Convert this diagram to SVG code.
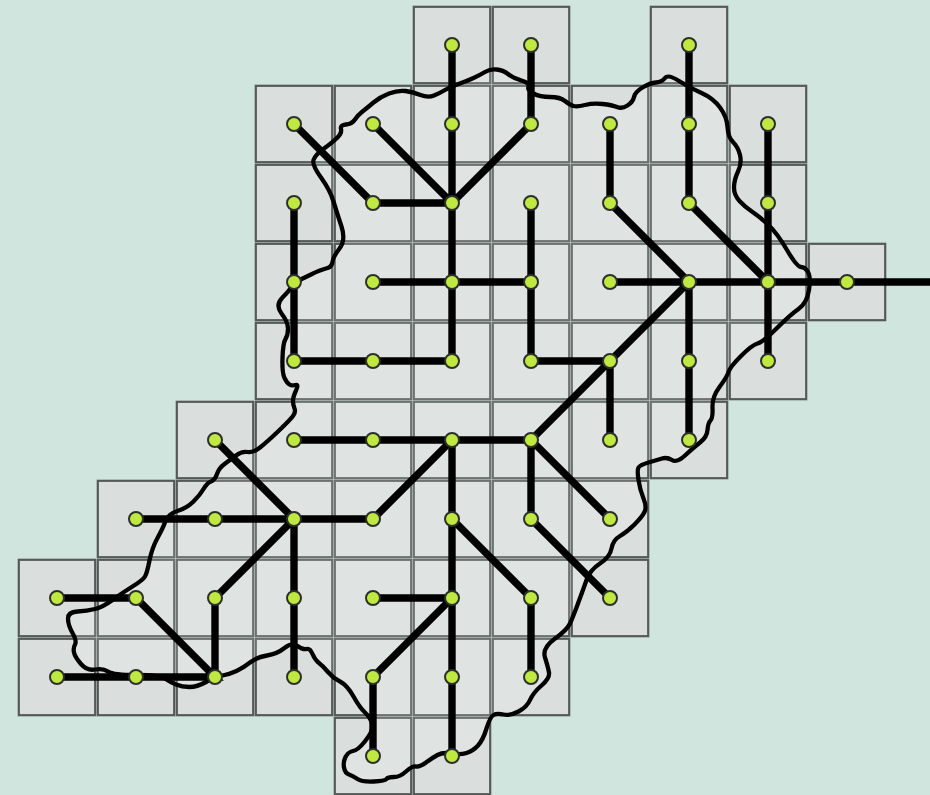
<svg xmlns="http://www.w3.org/2000/svg" xmlns:xlink="http://www.w3.org/1999/xlink" width="930" height="795" viewBox="0 0 930 795">
<defs>
<rect id="c" x="-38.2" y="-38.2" width="76.4" height="76.4"/>
<circle id="n" r="7"/>
<path id="shape" d="M339.5 248.5 Q333 257 332.5 262 Q332 267 326 268.5 Q320 270 311 274.5 Q302 279 298 280.5 Q294 282 292 286 Q290 290 282.5 297.5 Q275 305 281.5 313.5 Q288 322 288 328.5 Q288 335 285.5 339 Q283 343 282.5 358 Q282 373 284.5 378 Q287 383 289.5 384.5 Q292 386 295.5 385 Q299 384 296 390.5 Q293 397 293 401 Q293 405 294.5 408.5 Q296 412 293 416 Q290 420 278.5 431 Q267 442 260 447.5 Q253 453 247.5 452 Q242 451 236 455.5 Q230 460 224.5 464 Q219 468 217 474 Q215 480 211 481.5 Q207 483 203.5 489 Q200 495 193.5 501.5 Q187 508 177.5 511 Q168 514 165.5 521 Q163 528 157.5 538 Q152 548 149.5 560.5 Q147 573 145 576.5 Q143 580 132.5 586.5 Q122 593 112.5 600 Q103 607 95 609 Q87 611 77.5 611.5 Q68 612 68 618.5 Q68 625 72.5 633 Q77 641 75 644.5 Q73 648 74 652.5 Q75 657 81 664 Q87 671 95 669.5 Q103 668 108 671.5 Q113 675 136 675 Q160 675 165 678.5 Q170 682 176 684.5 Q182 687 189.5 687 Q197 687 206 682 Q215 677 222.5 675.5 Q230 674 236.5 671 Q243 668 250 662.5 Q257 657 267 655.5 Q277 654 284.5 648 Q292 642 297.5 646 Q303 650 306.5 649 Q310 648 312.5 654 Q315 660 319 663 Q323 666 328 672 Q333 678 340 681.5 Q347 685 353.5 696.5 Q360 708 365 712.5 Q370 717 371.5 722 Q373 727 371.5 731 Q370 735 364 742.5 Q358 750 353 751 Q348 752 345.5 757 Q343 762 344 767.5 Q345 773 349 774.5 Q353 776 357.5 779 Q362 782 373.5 781.5 Q385 781 386.5 779 Q388 777 394 777 Q400 777 406 771.5 Q412 766 416 766.5 Q420 767 426 762.5 Q432 758 437.5 755 Q443 752 451.5 753.5 Q460 755 466.5 753 Q473 751 478 745.5 Q483 740 486.5 728.5 Q490 717 493.5 715 Q497 713 503.5 714.5 Q510 716 518.5 711.5 Q527 707 530 700 Q533 693 541.5 685.5 Q550 678 549 672.5 Q548 667 545 657.5 Q542 648 554.5 639 Q567 630 570 623.5 Q573 617 578 603.5 Q583 590 586.5 580 Q590 570 600 563.5 Q610 557 611.5 548.5 Q613 540 620 536 Q627 532 634.5 524.5 Q642 517 644.5 512 Q647 507 643.5 498.5 Q640 490 638.5 480 Q637 470 638.5 467.5 Q640 465 648.5 462.5 Q657 460 662 458.5 Q667 457 672 460 Q677 463 685 455.5 Q693 448 700 442.5 Q707 437 707.5 430 Q708 423 710.5 420.5 Q713 418 712.5 407.5 Q712 397 719.5 387 Q727 377 728.5 372 Q730 367 741 356 Q752 345 757.5 343.5 Q763 342 776.5 328.5 Q790 315 798.5 309 Q807 303 809 290 Q811 277 808 272 Q805 267 801 267 Q797 267 787 250 Q777 233 768.5 225 Q760 217 752.5 212 Q745 207 739.5 201 Q734 195 734 187.5 Q734 180 738 171.5 Q742 163 740 155 Q738 147 733 142 Q728 137 727.5 127 Q727 117 720 107.5 Q713 98 701.5 93 Q690 88 679 81 Q668 74 665 78 Q662 82 656 82.5 Q650 83 642.5 87.5 Q635 92 634 97 Q633 102 627.5 105.5 Q622 109 617 107 Q612 105 602.5 104 Q593 103 585 105 Q577 107 573.5 106 Q570 105 565 101 Q560 97 550 97 Q540 97 533.5 93.5 Q527 90 528.5 86.5 Q530 83 521.5 80.5 Q513 78 508 74 Q503 70 496.5 69.5 Q490 69 485 72 Q480 75 473.5 78 Q467 81 458.5 84 Q450 87 445 90 Q440 93 434 95.5 Q428 98 420.5 95 Q413 92 405.5 91 Q398 90 389 93.5 Q380 97 373.5 102.5 Q367 108 362.5 111.5 Q358 115 355 119.5 Q352 124 346 124.5 Q340 125 341 129 Q342 133 337.5 137.5 Q333 142 324 148.5 Q315 155 313.5 160 Q312 165 321 177.5 Q330 190 333.5 201.5 Q337 213 341.5 226.5 Q346 240 339.5 248.5Z"/>
</defs>
<style>
.cell{fill:#dadfdd;stroke:#555a58;stroke-width:2.2}
.node{fill:#bfe841;stroke:#2c2f2a;stroke-width:2}
.edge{stroke:#000;stroke-width:7.4;stroke-linecap:round;fill:none}
.blob{fill:#fff;fill-opacity:.14;stroke:none}
.outline{fill:none;stroke:#000;stroke-width:4.3;stroke-linejoin:round}
</style>
<rect width="930" height="795" fill="#cfe5dd"/>
<g id="cells" class="cell">
<use xlink:href="#c" x="452" y="45"/><use xlink:href="#c" x="531" y="45"/><use xlink:href="#c" x="689" y="45"/>
<use xlink:href="#c" x="294" y="124"/><use xlink:href="#c" x="373" y="124"/><use xlink:href="#c" x="452" y="124"/><use xlink:href="#c" x="531" y="124"/><use xlink:href="#c" x="610" y="124"/><use xlink:href="#c" x="689" y="124"/><use xlink:href="#c" x="768" y="124"/>
<use xlink:href="#c" x="294" y="203"/><use xlink:href="#c" x="373" y="203"/><use xlink:href="#c" x="452" y="203"/><use xlink:href="#c" x="531" y="203"/><use xlink:href="#c" x="610" y="203"/><use xlink:href="#c" x="689" y="203"/><use xlink:href="#c" x="768" y="203"/>
<use xlink:href="#c" x="294" y="282"/><use xlink:href="#c" x="373" y="282"/><use xlink:href="#c" x="452" y="282"/><use xlink:href="#c" x="531" y="282"/><use xlink:href="#c" x="610" y="282"/><use xlink:href="#c" x="689" y="282"/><use xlink:href="#c" x="768" y="282"/><use xlink:href="#c" x="847" y="282"/>
<use xlink:href="#c" x="294" y="361"/><use xlink:href="#c" x="373" y="361"/><use xlink:href="#c" x="452" y="361"/><use xlink:href="#c" x="531" y="361"/><use xlink:href="#c" x="610" y="361"/><use xlink:href="#c" x="689" y="361"/><use xlink:href="#c" x="768" y="361"/>
<use xlink:href="#c" x="215" y="440"/><use xlink:href="#c" x="294" y="440"/><use xlink:href="#c" x="373" y="440"/><use xlink:href="#c" x="452" y="440"/><use xlink:href="#c" x="531" y="440"/><use xlink:href="#c" x="610" y="440"/><use xlink:href="#c" x="689" y="440"/>
<use xlink:href="#c" x="136" y="519"/><use xlink:href="#c" x="215" y="519"/><use xlink:href="#c" x="294" y="519"/><use xlink:href="#c" x="373" y="519"/><use xlink:href="#c" x="452" y="519"/><use xlink:href="#c" x="531" y="519"/><use xlink:href="#c" x="610" y="519"/>
<use xlink:href="#c" x="57" y="598"/><use xlink:href="#c" x="136" y="598"/><use xlink:href="#c" x="215" y="598"/><use xlink:href="#c" x="294" y="598"/><use xlink:href="#c" x="373" y="598"/><use xlink:href="#c" x="452" y="598"/><use xlink:href="#c" x="531" y="598"/><use xlink:href="#c" x="610" y="598"/>
<use xlink:href="#c" x="57" y="677"/><use xlink:href="#c" x="136" y="677"/><use xlink:href="#c" x="215" y="677"/><use xlink:href="#c" x="294" y="677"/><use xlink:href="#c" x="373" y="677"/><use xlink:href="#c" x="452" y="677"/><use xlink:href="#c" x="531" y="677"/>
<use xlink:href="#c" x="373" y="756"/><use xlink:href="#c" x="452" y="756"/>
</g>
<use xlink:href="#shape" class="blob"/>
<g id="connectors" class="edge">
<path d="M452 45V361M452 440V756M531 45V124L452 203M373 124L452 203M294 124L373 203H452M373 282H531M531 203V361H610M294 203V361H452"/>
<path d="M610 124V203L689 282M689 45V203L768 282M768 124V361M610 282H930M689 282V440M689 282L531 440M610 361V440"/>
<path d="M294 440H531M452 440L373 519H136M215 440L294 519L215 598V677M294 519V677M57 598H136L215 677H57"/>
<path d="M452 598H373M452 598L373 677V756M452 519L531 598V677M531 440V519L610 598M531 440L610 519"/>
</g>
<use id="outline" xlink:href="#shape" class="outline"/>
<g id="nodes" class="node">
<use xlink:href="#n" x="452" y="45"/><use xlink:href="#n" x="531" y="45"/><use xlink:href="#n" x="689" y="45"/>
<use xlink:href="#n" x="294" y="124"/><use xlink:href="#n" x="373" y="124"/><use xlink:href="#n" x="452" y="124"/><use xlink:href="#n" x="531" y="124"/><use xlink:href="#n" x="610" y="124"/><use xlink:href="#n" x="689" y="124"/><use xlink:href="#n" x="768" y="124"/>
<use xlink:href="#n" x="294" y="203"/><use xlink:href="#n" x="373" y="203"/><use xlink:href="#n" x="452" y="203"/><use xlink:href="#n" x="531" y="203"/><use xlink:href="#n" x="610" y="203"/><use xlink:href="#n" x="689" y="203"/><use xlink:href="#n" x="768" y="203"/>
<use xlink:href="#n" x="294" y="282"/><use xlink:href="#n" x="373" y="282"/><use xlink:href="#n" x="452" y="282"/><use xlink:href="#n" x="531" y="282"/><use xlink:href="#n" x="610" y="282"/><use xlink:href="#n" x="689" y="282"/><use xlink:href="#n" x="768" y="282"/><use xlink:href="#n" x="847" y="282"/>
<use xlink:href="#n" x="294" y="361"/><use xlink:href="#n" x="373" y="361"/><use xlink:href="#n" x="452" y="361"/><use xlink:href="#n" x="531" y="361"/><use xlink:href="#n" x="610" y="361"/><use xlink:href="#n" x="689" y="361"/><use xlink:href="#n" x="768" y="361"/>
<use xlink:href="#n" x="215" y="440"/><use xlink:href="#n" x="294" y="440"/><use xlink:href="#n" x="373" y="440"/><use xlink:href="#n" x="452" y="440"/><use xlink:href="#n" x="531" y="440"/><use xlink:href="#n" x="610" y="440"/><use xlink:href="#n" x="689" y="440"/>
<use xlink:href="#n" x="136" y="519"/><use xlink:href="#n" x="215" y="519"/><use xlink:href="#n" x="294" y="519"/><use xlink:href="#n" x="373" y="519"/><use xlink:href="#n" x="452" y="519"/><use xlink:href="#n" x="531" y="519"/><use xlink:href="#n" x="610" y="519"/>
<use xlink:href="#n" x="57" y="598"/><use xlink:href="#n" x="136" y="598"/><use xlink:href="#n" x="215" y="598"/><use xlink:href="#n" x="294" y="598"/><use xlink:href="#n" x="373" y="598"/><use xlink:href="#n" x="452" y="598"/><use xlink:href="#n" x="531" y="598"/><use xlink:href="#n" x="610" y="598"/>
<use xlink:href="#n" x="57" y="677"/><use xlink:href="#n" x="136" y="677"/><use xlink:href="#n" x="215" y="677"/><use xlink:href="#n" x="294" y="677"/><use xlink:href="#n" x="373" y="677"/><use xlink:href="#n" x="452" y="677"/><use xlink:href="#n" x="531" y="677"/>
<use xlink:href="#n" x="373" y="756"/><use xlink:href="#n" x="452" y="756"/>
</g>
</svg>
